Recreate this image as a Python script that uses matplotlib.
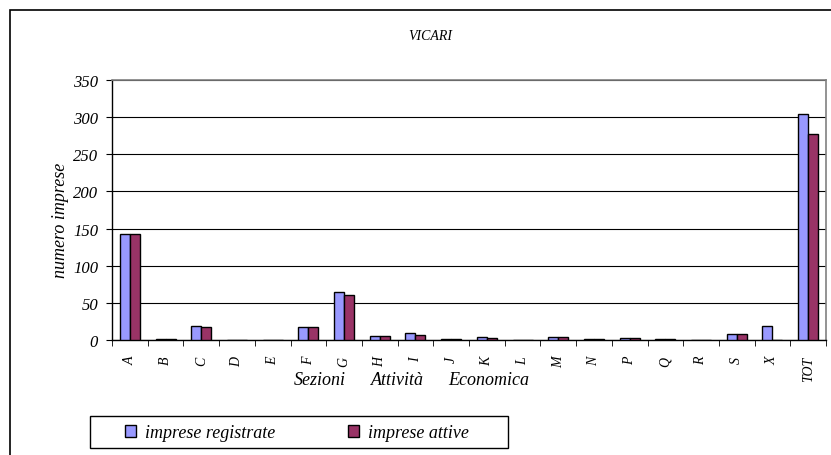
import matplotlib
matplotlib.use("Agg")
import matplotlib.pyplot as plt
from matplotlib.patches import Rectangle
import numpy as np

categories = ["A", "B", "C", "D", "E", "F", "G", "H", "I", "J", "K", "L",
              "M", "N", "P", "Q", "R", "S", "X", "TOT"]
registrate = [143, 1, 19, 0, 0, 18, 64, 6, 9, 2, 4, 0, 4, 2, 3, 2, 0, 8, 19, 304]
attive = [143, 1, 18, 0, 0, 18, 61, 6, 7, 2, 3, 0, 4, 2, 3, 1, 0, 8, 0, 277]
yticks = [0, 50, 100, 150, 200, 250, 300, 350]

plt.rcParams['font.family'] = ['Liberation Serif', 'DejaVu Serif']

W, H = 831, 456
fig = plt.figure(figsize=(W / 100, H / 100), dpi=100)
ax = fig.add_axes([112 / W, 1 - 341 / H, (826 - 112) / W, (341 - 81) / H])

x = np.arange(len(categories))
bw = 0.28
ax.bar(x - bw / 2, registrate, bw, color="#9999FF", edgecolor="black", linewidth=1.0,
       label="imprese registrate", zorder=3)
ax.bar(x + bw / 2, attive, bw, color="#993366", edgecolor="black", linewidth=1.0,
       label="imprese attive", zorder=3)

ax.set_xlim(-0.5, len(categories) - 0.5)
ax.set_ylim(0, 350)
ax.set_yticks(yticks)
ax.set_yticklabels([str(v) for v in yticks], fontstyle="italic", fontsize=12)
ax.yaxis.grid(True, color="black", linewidth=0.8, zorder=0)
ax.set_axisbelow(True)

ax.set_xticks(x)
ax.set_xticklabels(categories, rotation=90, fontstyle="italic", fontsize=10)
ax.tick_params(axis="x", which="major", length=0, pad=11.5)
ax.set_xticks(np.arange(-0.5, len(categories), 1.0), minor=True)
ax.tick_params(axis="x", which="minor", length=4, direction="out", color="black")
ax.tick_params(axis="y", length=4, direction="out", color="black", pad=6)

for s in ["top", "right"]:
    ax.spines[s].set_color("#808080")
    ax.spines[s].set_linewidth(1.2)
for s in ["left", "bottom"]:
    ax.spines[s].set_color("black")
    ax.spines[s].set_linewidth(1.0)

fig.text(61 / W, 1 - 220 / H, "numero imprese", rotation=90, fontstyle="italic",
         fontsize=13, ha="center", va="center")
fig.text(430 / W, 1 - 37 / H, "VICARI", fontstyle="italic", fontsize=10,
         ha="center", va="center")
for word, px in [("Sezioni", 320), ("Attività", 397), ("Economica", 489)]:
    fig.text(px / W, 1 - 381 / H, word, fontstyle="italic", fontsize=13,
             ha="center", va="center")

# outer chart border
fig.patches.append(Rectangle((10 / W, -5 / H), (W + 20) / W, (H - 11 + 5) / H,
                             transform=fig.transFigure, fill=False,
                             edgecolor="black", linewidth=1.2))

# legend frame
fig.patches.append(Rectangle((90 / W, 1 - 449 / H), (508 - 90) / W, (449 - 417) / H,
                             transform=fig.transFigure, fill=False,
                             edgecolor="black", linewidth=1.0))
leg = fig.legend(loc="center", bbox_to_anchor=(297 / W, 1 - 434 / H), ncol=2,
                 frameon=False, prop={"style": "italic", "size": 13},
                 handlelength=0.62, handleheight=0.62, columnspacing=4.0,
                 borderpad=0.2, handletextpad=0.5)

fig.savefig("out.png", dpi=100)
